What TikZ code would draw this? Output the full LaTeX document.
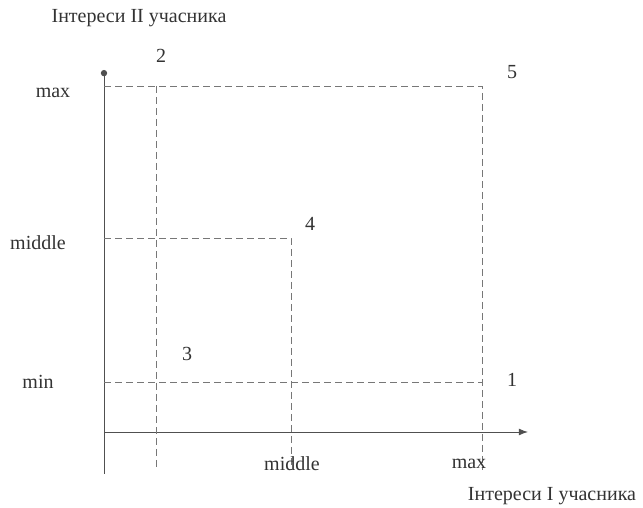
\documentclass[tikz,border=0pt]{standalone}
\usepackage{fontspec}
\setmainfont{Liberation Serif}
\usetikzlibrary{arrows.meta,positioning}
\definecolor{axisgray}{HTML}{505050}
\definecolor{dashgray}{HTML}{777777}
\definecolor{labelgray}{HTML}{333333}
\tikzset{
  axis/.style={draw=axisgray, line width=0.9pt},
  guide/.style={draw=dashgray, line width=0.8pt, dash pattern=on 7pt off 4pt},
  lbl/.style={text=labelgray, font=\fontsize{20}{22}\selectfont, inner sep=0pt},
  arrow/.style={-{Latex[length=3.2mm, width=2.4mm]}},
  dotarrow/.style={-{Circle[length=2.2mm]}}
}

\begin{document}
\begin{tikzpicture}[x=1pt,y=1pt]
  \useasboundingbox (0,0) rectangle (643,508);

  % axes
  \coordinate (origin) at (104,76);
  \coordinate (ybottom) at (104,34);
  \coordinate (ytop) at (104,438);
  \coordinate (xend) at (528,76);
  \draw[axis, dotarrow] (ybottom) -- (ytop);
  \draw[axis, arrow] (origin) -- (xend);

  % levels on the axes
  \coordinate (ymax) at (104,422);
  \coordinate (ymid) at (104,270);
  \coordinate (ymin) at (104,126);
  \coordinate (xlow) at (156,38);
  \coordinate (xlowtop) at (156,422);
  \coordinate (xmid) at (291,38);
  \coordinate (xmax) at (482,38);
  \coordinate (xmaxmin) at (482,126);

  % dashed guides
  \draw[guide] (ymax) -| (xmax);
  \draw[guide] (xlowtop) -- (xlow);
  \draw[guide] (ymid) -| (xmid);
  \draw[guide] (ymin) -- (xmaxmin);

  % axis captions
  \node[lbl] (ytitle) at (139,490) {Інтереси II учасника};
  \node[lbl] (xtitle) at (552,12) {Інтереси I учасника};
  \node[lbl] (ymaxlbl) at (53,415) {max};
  \node[lbl] (ymidlbl) at (38,265) {middle};
  \node[lbl] (yminlbl) at (38,126) {min};
  \node[lbl] (xmidlbl) at (292,44) {middle};
  \node[lbl] (xmaxlbl) at (469,44) {max};

  % points
  \node[lbl] (p1) at (512,128) {1};
  \node[lbl] (p2) at (161,452) {2};
  \node[lbl] (p3) at (187,154) {3};
  \node[lbl] (p4) at (310,284) {4};
  \node[lbl] (p5) at (512,436) {5};
\end{tikzpicture}
\end{document}
